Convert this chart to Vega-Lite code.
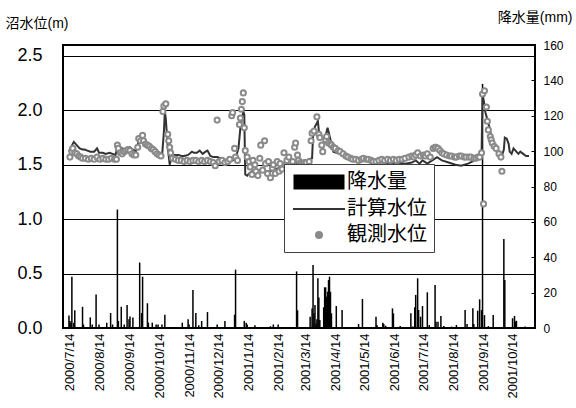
{
  "$schema": "https://vega.github.io/schema/vega-lite/v6.json",
  "width": 472,
  "height": 283,
  "autosize": "none",
  "padding": {"left": 63, "top": 45, "right": 41, "bottom": 80},
  "background": "white",
  "config": {
    "view": {"stroke": "black", "strokeWidth": 2},
    "font": "Liberation Sans, Noto Sans CJK JP, sans-serif",
    "axis": {"domain": false, "ticks": false, "labelColor": "black", "titleColor": "black", "titleFontWeight": "normal"}
  },
  "datasets": {
    "rain": [
      {"d": "2000/7/13", "mm": 7}, {"d": "2000/7/14", "mm": 4}, {"d": "2000/7/15", "mm": 3}, {"d": "2000/7/16", "mm": 29},
      {"d": "2000/7/18", "mm": 3}, {"d": "2000/7/19", "mm": 10}, {"d": "2000/7/27", "mm": 12}, {"d": "2000/7/28", "mm": 2},
      {"d": "2000/8/4", "mm": 6}, {"d": "2000/8/6", "mm": 2}, {"d": "2000/8/10", "mm": 19}, {"d": "2000/8/13", "mm": 2},
      {"d": "2000/8/21", "mm": 3}, {"d": "2000/8/25", "mm": 8.5}, {"d": "2000/8/27", "mm": 2}, {"d": "2000/9/1", "mm": 67},
      {"d": "2000/9/2", "mm": 4}, {"d": "2000/9/5", "mm": 12}, {"d": "2000/9/8", "mm": 2}, {"d": "2000/9/11", "mm": 13},
      {"d": "2000/9/13", "mm": 5}, {"d": "2000/9/14", "mm": 6.5}, {"d": "2000/9/17", "mm": 6}, {"d": "2000/9/24", "mm": 37},
      {"d": "2000/9/26", "mm": 8.5}, {"d": "2000/9/27", "mm": 29}, {"d": "2000/10/2", "mm": 14}, {"d": "2000/10/3", "mm": 3},
      {"d": "2000/10/7", "mm": 3}, {"d": "2000/10/11", "mm": 2}, {"d": "2000/10/13", "mm": 2}, {"d": "2000/10/17", "mm": 2},
      {"d": "2000/10/20", "mm": 7.5}, {"d": "2000/11/7", "mm": 3}, {"d": "2000/11/13", "mm": 5}, {"d": "2000/11/14", "mm": 2},
      {"d": "2000/11/18", "mm": 21.5}, {"d": "2000/11/21", "mm": 8.5}, {"d": "2000/11/24", "mm": 1.5}, {"d": "2000/11/27", "mm": 4},
      {"d": "2000/12/3", "mm": 9}, {"d": "2000/12/13", "mm": 2}, {"d": "2000/12/21", "mm": 4}, {"d": "2000/12/31", "mm": 7.5},
      {"d": "2001/1/1", "mm": 33}, {"d": "2001/1/10", "mm": 4}, {"d": "2001/1/12", "mm": 3}, {"d": "2001/1/13", "mm": 2},
      {"d": "2001/1/21", "mm": 1.5}, {"d": "2001/2/6", "mm": 1}, {"d": "2001/2/9", "mm": 2}, {"d": "2001/2/14", "mm": 2},
      {"d": "2001/3/5", "mm": 32}, {"d": "2001/3/6", "mm": 10}, {"d": "2001/3/19", "mm": 6.4}, {"d": "2001/3/21", "mm": 11},
      {"d": "2001/3/22", "mm": 35.6}, {"d": "2001/3/23", "mm": 8.3}, {"d": "2001/3/24", "mm": 13}, {"d": "2001/3/25", "mm": 2.6},
      {"d": "2001/3/26", "mm": 4.9}, {"d": "2001/3/27", "mm": 28.1}, {"d": "2001/3/28", "mm": 17.3}, {"d": "2001/3/29", "mm": 4.5},
      {"d": "2001/4/2", "mm": 11.7}, {"d": "2001/4/3", "mm": 23}, {"d": "2001/4/4", "mm": 23}, {"d": "2001/4/5", "mm": 17.7},
      {"d": "2001/4/6", "mm": 20.5}, {"d": "2001/4/7", "mm": 27.1}, {"d": "2001/4/8", "mm": 29}, {"d": "2001/4/9", "mm": 20.5},
      {"d": "2001/4/10", "mm": 8.3}, {"d": "2001/4/15", "mm": 12.4}, {"d": "2001/4/21", "mm": 10.2}, {"d": "2001/4/24", "mm": 0.5},
      {"d": "2001/4/26", "mm": 0.5}, {"d": "2001/5/8", "mm": 2.3}, {"d": "2001/5/12", "mm": 16.4}, {"d": "2001/5/18", "mm": 0.5},
      {"d": "2001/5/26", "mm": 6.4}, {"d": "2001/5/27", "mm": 1.7}, {"d": "2001/6/2", "mm": 3}, {"d": "2001/6/3", "mm": 2.3},
      {"d": "2001/6/5", "mm": 1.3}, {"d": "2001/6/12", "mm": 11.1}, {"d": "2001/6/13", "mm": 8.3}, {"d": "2001/6/20", "mm": 1.1},
      {"d": "2001/7/1", "mm": 8.3}, {"d": "2001/7/3", "mm": 0.8}, {"d": "2001/7/5", "mm": 11.7}, {"d": "2001/7/6", "mm": 18.7},
      {"d": "2001/7/8", "mm": 28.1}, {"d": "2001/7/9", "mm": 10.2}, {"d": "2001/7/11", "mm": 6.4}, {"d": "2001/7/13", "mm": 12.4},
      {"d": "2001/7/15", "mm": 0.5}, {"d": "2001/7/18", "mm": 20.2}, {"d": "2001/7/20", "mm": 1.7}, {"d": "2001/7/26", "mm": 24.3},
      {"d": "2001/7/27", "mm": 3.6}, {"d": "2001/7/29", "mm": 3.6}, {"d": "2001/8/1", "mm": 6.8}, {"d": "2001/8/4", "mm": 1.1},
      {"d": "2001/8/12", "mm": 0.8}, {"d": "2001/8/17", "mm": 1.7}, {"d": "2001/8/26", "mm": 10.2}, {"d": "2001/8/28", "mm": 2.3},
      {"d": "2001/9/3", "mm": 11.1}, {"d": "2001/9/4", "mm": 2.3}, {"d": "2001/9/8", "mm": 9.8}, {"d": "2001/9/10", "mm": 16.2},
      {"d": "2001/9/12", "mm": 10.2}, {"d": "2001/9/13", "mm": 138}, {"d": "2001/9/15", "mm": 7.3}, {"d": "2001/9/19", "mm": 1.1},
      {"d": "2001/9/24", "mm": 7.3}, {"d": "2001/10/5", "mm": 50.3}, {"d": "2001/10/6", "mm": 27.1}, {"d": "2001/10/14", "mm": 5.5},
      {"d": "2001/10/16", "mm": 6.8}, {"d": "2001/10/17", "mm": 3.6}, {"d": "2001/10/18", "mm": 4.1}, {"d": "2001/10/27", "mm": 0.8}
    ],
    "calc": [
      {"d": "2000/7/13", "v": 1.62}, {"d": "2000/7/15", "v": 1.66}, {"d": "2000/7/18", "v": 1.71}, {"d": "2000/7/21", "v": 1.68},
      {"d": "2000/7/24", "v": 1.65}, {"d": "2000/7/27", "v": 1.64}, {"d": "2000/7/29", "v": 1.64}, {"d": "2000/8/1", "v": 1.63},
      {"d": "2000/8/4", "v": 1.62}, {"d": "2000/8/8", "v": 1.62}, {"d": "2000/8/11", "v": 1.65}, {"d": "2000/8/13", "v": 1.61},
      {"d": "2000/8/17", "v": 1.61}, {"d": "2000/8/20", "v": 1.60}, {"d": "2000/8/24", "v": 1.61}, {"d": "2000/8/27", "v": 1.60},
      {"d": "2000/8/30", "v": 1.59}, {"d": "2000/9/1", "v": 1.66}, {"d": "2000/9/4", "v": 1.66}, {"d": "2000/9/6", "v": 1.65},
      {"d": "2000/9/10", "v": 1.64}, {"d": "2000/9/14", "v": 1.66}, {"d": "2000/9/17", "v": 1.64}, {"d": "2000/9/20", "v": 1.62},
      {"d": "2000/9/23", "v": 1.72}, {"d": "2000/9/26", "v": 1.75}, {"d": "2000/9/28", "v": 1.73}, {"d": "2000/10/1", "v": 1.70},
      {"d": "2000/10/4", "v": 1.68}, {"d": "2000/10/8", "v": 1.65}, {"d": "2000/10/11", "v": 1.62}, {"d": "2000/10/15", "v": 1.58},
      {"d": "2000/10/17", "v": 1.57}, {"d": "2000/10/19", "v": 1.80}, {"d": "2000/10/20", "v": 1.99}, {"d": "2000/10/21", "v": 1.92},
      {"d": "2000/10/23", "v": 1.66}, {"d": "2000/10/25", "v": 1.50}, {"d": "2000/10/27", "v": 1.57}, {"d": "2000/10/30", "v": 1.59},
      {"d": "2000/11/3", "v": 1.59}, {"d": "2000/11/6", "v": 1.58}, {"d": "2000/11/9", "v": 1.58}, {"d": "2000/11/13", "v": 1.59},
      {"d": "2000/11/17", "v": 1.62}, {"d": "2000/11/19", "v": 1.61}, {"d": "2000/11/22", "v": 1.61}, {"d": "2000/11/25", "v": 1.63},
      {"d": "2000/11/28", "v": 1.60}, {"d": "2000/12/1", "v": 1.62}, {"d": "2000/12/3", "v": 1.63}, {"d": "2000/12/6", "v": 1.58},
      {"d": "2000/12/9", "v": 1.57}, {"d": "2000/12/13", "v": 1.57}, {"d": "2000/12/16", "v": 1.56}, {"d": "2000/12/19", "v": 1.56},
      {"d": "2000/12/22", "v": 1.54}, {"d": "2000/12/26", "v": 1.53}, {"d": "2000/12/29", "v": 1.54}, {"d": "2001/1/1", "v": 1.56},
      {"d": "2001/1/4", "v": 1.65}, {"d": "2001/1/6", "v": 1.84}, {"d": "2001/1/9", "v": 1.99}, {"d": "2001/1/10", "v": 1.96},
      {"d": "2001/1/11", "v": 1.41}, {"d": "2001/1/13", "v": 1.40}, {"d": "2001/1/15", "v": 1.42}, {"d": "2001/1/18", "v": 1.44},
      {"d": "2001/1/22", "v": 1.44}, {"d": "2001/1/25", "v": 1.45}, {"d": "2001/1/28", "v": 1.45}, {"d": "2001/2/1", "v": 1.44},
      {"d": "2001/2/6", "v": 1.44}, {"d": "2001/2/10", "v": 1.46}, {"d": "2001/2/16", "v": 1.47}, {"d": "2001/2/21", "v": 1.48},
      {"d": "2001/2/26", "v": 1.49}, {"d": "2001/3/2", "v": 1.50}, {"d": "2001/3/6", "v": 1.51}, {"d": "2001/3/10", "v": 1.52},
      {"d": "2001/3/15", "v": 1.54}, {"d": "2001/3/21", "v": 1.56}, {"d": "2001/3/22", "v": 1.76}, {"d": "2001/3/24", "v": 1.85},
      {"d": "2001/3/27", "v": 1.90}, {"d": "2001/3/28", "v": 1.81}, {"d": "2001/3/31", "v": 1.76}, {"d": "2001/4/3", "v": 1.73},
      {"d": "2001/4/6", "v": 1.84}, {"d": "2001/4/9", "v": 1.73}, {"d": "2001/4/12", "v": 1.62}, {"d": "2001/4/15", "v": 1.61},
      {"d": "2001/4/19", "v": 1.60}, {"d": "2001/4/24", "v": 1.58}, {"d": "2001/4/29", "v": 1.56}, {"d": "2001/5/5", "v": 1.55},
      {"d": "2001/5/13", "v": 1.54}, {"d": "2001/5/19", "v": 1.53}, {"d": "2001/5/26", "v": 1.52}, {"d": "2001/6/2", "v": 1.52},
      {"d": "2001/6/10", "v": 1.51}, {"d": "2001/6/18", "v": 1.52}, {"d": "2001/6/25", "v": 1.51}, {"d": "2001/7/2", "v": 1.52},
      {"d": "2001/7/6", "v": 1.54}, {"d": "2001/7/10", "v": 1.51}, {"d": "2001/7/13", "v": 1.54}, {"d": "2001/7/18", "v": 1.51},
      {"d": "2001/7/23", "v": 1.54}, {"d": "2001/7/28", "v": 1.57}, {"d": "2001/8/2", "v": 1.54}, {"d": "2001/8/9", "v": 1.52},
      {"d": "2001/8/16", "v": 1.50}, {"d": "2001/8/22", "v": 1.49}, {"d": "2001/8/29", "v": 1.51}, {"d": "2001/9/5", "v": 1.54},
      {"d": "2001/9/11", "v": 1.57}, {"d": "2001/9/12", "v": 1.60}, {"d": "2001/9/13", "v": 2.15}, {"d": "2001/9/15", "v": 2.05},
      {"d": "2001/9/16", "v": 1.98}, {"d": "2001/9/20", "v": 1.85}, {"d": "2001/9/23", "v": 1.72}, {"d": "2001/9/30", "v": 1.62},
      {"d": "2001/10/3", "v": 1.58}, {"d": "2001/10/5", "v": 1.64}, {"d": "2001/10/6", "v": 1.75}, {"d": "2001/10/8", "v": 1.74},
      {"d": "2001/10/10", "v": 1.69}, {"d": "2001/10/11", "v": 1.62}, {"d": "2001/10/13", "v": 1.60}, {"d": "2001/10/15", "v": 1.65},
      {"d": "2001/10/17", "v": 1.63}, {"d": "2001/10/20", "v": 1.60}, {"d": "2001/10/22", "v": 1.62}, {"d": "2001/10/25", "v": 1.60},
      {"d": "2001/10/28", "v": 1.58}, {"d": "2001/10/31", "v": 1.58}
    ],
    "obs": [
      {"d": "2000/7/14", "v": 1.57}, {"d": "2000/7/16", "v": 1.62}, {"d": "2000/7/17", "v": 1.65}, {"d": "2000/7/19", "v": 1.61},
      {"d": "2000/7/21", "v": 1.60}, {"d": "2000/7/23", "v": 1.58}, {"d": "2000/7/25", "v": 1.57}, {"d": "2000/7/27", "v": 1.56},
      {"d": "2000/7/30", "v": 1.56}, {"d": "2000/8/2", "v": 1.55}, {"d": "2000/8/5", "v": 1.56}, {"d": "2000/8/8", "v": 1.55},
      {"d": "2000/8/11", "v": 1.57}, {"d": "2000/8/14", "v": 1.55}, {"d": "2000/8/17", "v": 1.56}, {"d": "2000/8/20", "v": 1.55},
      {"d": "2000/8/23", "v": 1.55}, {"d": "2000/8/26", "v": 1.56}, {"d": "2000/8/29", "v": 1.55}, {"d": "2000/8/31", "v": 1.55},
      {"d": "2000/9/1", "v": 1.68}, {"d": "2000/9/2", "v": 1.65}, {"d": "2000/9/4", "v": 1.61}, {"d": "2000/9/6", "v": 1.60},
      {"d": "2000/9/8", "v": 1.62}, {"d": "2000/9/10", "v": 1.63}, {"d": "2000/9/12", "v": 1.64}, {"d": "2000/9/14", "v": 1.63},
      {"d": "2000/9/16", "v": 1.60}, {"d": "2000/9/18", "v": 1.59}, {"d": "2000/9/20", "v": 1.59}, {"d": "2000/9/22", "v": 1.66},
      {"d": "2000/9/23", "v": 1.74}, {"d": "2000/9/25", "v": 1.72}, {"d": "2000/9/27", "v": 1.77}, {"d": "2000/9/28", "v": 1.72},
      {"d": "2000/9/30", "v": 1.69}, {"d": "2000/10/2", "v": 1.68}, {"d": "2000/10/4", "v": 1.67}, {"d": "2000/10/6", "v": 1.65},
      {"d": "2000/10/8", "v": 1.64}, {"d": "2000/10/10", "v": 1.62}, {"d": "2000/10/12", "v": 1.60}, {"d": "2000/10/14", "v": 1.59},
      {"d": "2000/10/16", "v": 1.58}, {"d": "2000/10/18", "v": 1.99}, {"d": "2000/10/19", "v": 2.04}, {"d": "2000/10/21", "v": 2.06},
      {"d": "2000/10/23", "v": 1.78}, {"d": "2000/10/24", "v": 1.72}, {"d": "2000/10/25", "v": 1.66}, {"d": "2000/10/26", "v": 1.61},
      {"d": "2000/10/28", "v": 1.56}, {"d": "2000/10/31", "v": 1.55}, {"d": "2000/11/3", "v": 1.54}, {"d": "2000/11/6", "v": 1.54},
      {"d": "2000/11/9", "v": 1.53}, {"d": "2000/11/12", "v": 1.54}, {"d": "2000/11/15", "v": 1.53}, {"d": "2000/11/18", "v": 1.54},
      {"d": "2000/11/21", "v": 1.54}, {"d": "2000/11/24", "v": 1.53}, {"d": "2000/11/27", "v": 1.54}, {"d": "2000/11/30", "v": 1.53},
      {"d": "2000/12/3", "v": 1.54}, {"d": "2000/12/6", "v": 1.53}, {"d": "2000/12/9", "v": 1.52}, {"d": "2000/12/11", "v": 1.49},
      {"d": "2000/12/13", "v": 1.91}, {"d": "2000/12/15", "v": 1.53}, {"d": "2000/12/18", "v": 1.54}, {"d": "2000/12/21", "v": 1.52},
      {"d": "2000/12/24", "v": 1.53}, {"d": "2000/12/26", "v": 1.55}, {"d": "2000/12/28", "v": 1.95}, {"d": "2000/12/29", "v": 1.98},
      {"d": "2000/12/31", "v": 1.65}, {"d": "2001/1/1", "v": 1.57}, {"d": "2001/1/3", "v": 1.54}, {"d": "2001/1/5", "v": 1.87},
      {"d": "2001/1/6", "v": 1.93}, {"d": "2001/1/7", "v": 2.01}, {"d": "2001/1/8", "v": 2.08}, {"d": "2001/1/9", "v": 2.16},
      {"d": "2001/1/10", "v": 1.84}, {"d": "2001/1/11", "v": 1.63}, {"d": "2001/1/13", "v": 1.57}, {"d": "2001/1/15", "v": 1.53},
      {"d": "2001/1/16", "v": 1.48}, {"d": "2001/1/18", "v": 1.41}, {"d": "2001/1/19", "v": 1.54}, {"d": "2001/1/21", "v": 1.50},
      {"d": "2001/1/22", "v": 1.44}, {"d": "2001/1/24", "v": 1.40}, {"d": "2001/1/26", "v": 1.56}, {"d": "2001/1/27", "v": 1.68},
      {"d": "2001/1/29", "v": 1.45}, {"d": "2001/1/31", "v": 1.72}, {"d": "2001/2/1", "v": 1.51}, {"d": "2001/2/3", "v": 1.42},
      {"d": "2001/2/4", "v": 1.53}, {"d": "2001/2/6", "v": 1.38}, {"d": "2001/2/8", "v": 1.47}, {"d": "2001/2/9", "v": 1.50},
      {"d": "2001/2/11", "v": 1.42}, {"d": "2001/2/13", "v": 1.53}, {"d": "2001/2/15", "v": 1.44}, {"d": "2001/2/16", "v": 1.51},
      {"d": "2001/2/18", "v": 1.46}, {"d": "2001/2/20", "v": 1.61}, {"d": "2001/2/22", "v": 1.50}, {"d": "2001/2/23", "v": 1.54},
      {"d": "2001/2/25", "v": 1.57}, {"d": "2001/2/27", "v": 1.48}, {"d": "2001/3/1", "v": 1.53}, {"d": "2001/3/3", "v": 1.66},
      {"d": "2001/3/4", "v": 1.70}, {"d": "2001/3/6", "v": 1.59}, {"d": "2001/3/7", "v": 1.54}, {"d": "2001/3/9", "v": 1.52},
      {"d": "2001/3/11", "v": 1.51}, {"d": "2001/3/13", "v": 1.52}, {"d": "2001/3/15", "v": 1.52}, {"d": "2001/3/18", "v": 1.53},
      {"d": "2001/3/20", "v": 1.72}, {"d": "2001/3/21", "v": 1.79}, {"d": "2001/3/23", "v": 1.81}, {"d": "2001/3/26", "v": 1.94},
      {"d": "2001/3/28", "v": 1.78}, {"d": "2001/3/29", "v": 1.75}, {"d": "2001/3/31", "v": 1.68}, {"d": "2001/4/1", "v": 1.62},
      {"d": "2001/4/4", "v": 1.73}, {"d": "2001/4/5", "v": 1.76}, {"d": "2001/4/7", "v": 1.70}, {"d": "2001/4/9", "v": 1.69},
      {"d": "2001/4/10", "v": 1.68}, {"d": "2001/4/12", "v": 1.66}, {"d": "2001/4/14", "v": 1.65}, {"d": "2001/4/17", "v": 1.63},
      {"d": "2001/4/19", "v": 1.62}, {"d": "2001/4/22", "v": 1.60}, {"d": "2001/4/25", "v": 1.58}, {"d": "2001/4/27", "v": 1.57},
      {"d": "2001/4/30", "v": 1.56}, {"d": "2001/5/2", "v": 1.55}, {"d": "2001/5/5", "v": 1.55}, {"d": "2001/5/8", "v": 1.54},
      {"d": "2001/5/11", "v": 1.55}, {"d": "2001/5/13", "v": 1.56}, {"d": "2001/5/16", "v": 1.55}, {"d": "2001/5/18", "v": 1.55},
      {"d": "2001/5/21", "v": 1.54}, {"d": "2001/5/23", "v": 1.53}, {"d": "2001/5/26", "v": 1.53}, {"d": "2001/5/29", "v": 1.54},
      {"d": "2001/6/1", "v": 1.55}, {"d": "2001/6/4", "v": 1.54}, {"d": "2001/6/7", "v": 1.55}, {"d": "2001/6/10", "v": 1.54},
      {"d": "2001/6/13", "v": 1.55}, {"d": "2001/6/16", "v": 1.54}, {"d": "2001/6/19", "v": 1.55}, {"d": "2001/6/22", "v": 1.55},
      {"d": "2001/6/25", "v": 1.56}, {"d": "2001/6/29", "v": 1.57}, {"d": "2001/7/2", "v": 1.58}, {"d": "2001/7/4", "v": 1.57},
      {"d": "2001/7/6", "v": 1.59}, {"d": "2001/7/8", "v": 1.61}, {"d": "2001/7/11", "v": 1.58}, {"d": "2001/7/14", "v": 1.59},
      {"d": "2001/7/16", "v": 1.58}, {"d": "2001/7/18", "v": 1.60}, {"d": "2001/7/21", "v": 1.57}, {"d": "2001/7/24", "v": 1.65},
      {"d": "2001/7/26", "v": 1.66}, {"d": "2001/7/27", "v": 1.66}, {"d": "2001/7/29", "v": 1.65}, {"d": "2001/7/31", "v": 1.63},
      {"d": "2001/8/2", "v": 1.61}, {"d": "2001/8/4", "v": 1.60}, {"d": "2001/8/7", "v": 1.59}, {"d": "2001/8/10", "v": 1.58},
      {"d": "2001/8/12", "v": 1.58}, {"d": "2001/8/15", "v": 1.57}, {"d": "2001/8/17", "v": 1.57}, {"d": "2001/8/20", "v": 1.58},
      {"d": "2001/8/22", "v": 1.58}, {"d": "2001/8/25", "v": 1.57}, {"d": "2001/8/27", "v": 1.57}, {"d": "2001/8/30", "v": 1.57},
      {"d": "2001/9/1", "v": 1.57}, {"d": "2001/9/4", "v": 1.56}, {"d": "2001/9/6", "v": 1.56}, {"d": "2001/9/8", "v": 1.57},
      {"d": "2001/9/10", "v": 1.57}, {"d": "2001/9/12", "v": 1.61}, {"d": "2001/9/13", "v": 2.15}, {"d": "2001/9/14", "v": 1.14},
      {"d": "2001/9/15", "v": 2.18}, {"d": "2001/9/17", "v": 2.03}, {"d": "2001/9/18", "v": 1.90}, {"d": "2001/9/19", "v": 1.82},
      {"d": "2001/9/21", "v": 1.76}, {"d": "2001/9/22", "v": 1.73}, {"d": "2001/9/23", "v": 1.70}, {"d": "2001/9/25", "v": 1.67},
      {"d": "2001/9/27", "v": 1.65}, {"d": "2001/9/30", "v": 1.60}, {"d": "2001/10/2", "v": 1.57}, {"d": "2001/10/3", "v": 1.44}
    ]
  },
  "encoding": {
    "x": {
      "field": "d",
      "type": "temporal",
      "title": null,
      "scale": {"domain": [{"year": 2000, "month": 7, "date": 12}, {"year": 2001, "month": 11, "date": 1}]},
      "axis": {
        "values": [
          {"year": 2000, "month": 7, "date": 14}, {"year": 2000, "month": 8, "date": 14}, {"year": 2000, "month": 9, "date": 14},
          {"year": 2000, "month": 10, "date": 14}, {"year": 2000, "month": 11, "date": 14}, {"year": 2000, "month": 12, "date": 14},
          {"year": 2001, "month": 1, "date": 14}, {"year": 2001, "month": 2, "date": 14}, {"year": 2001, "month": 3, "date": 14},
          {"year": 2001, "month": 4, "date": 14}, {"year": 2001, "month": 5, "date": 14}, {"year": 2001, "month": 6, "date": 14},
          {"year": 2001, "month": 7, "date": 14}, {"year": 2001, "month": 8, "date": 14}, {"year": 2001, "month": 9, "date": 14},
          {"year": 2001, "month": 10, "date": 14}
        ],
        "format": "%Y/%-m/%-d",
        "labelAngle": -90,
        "labelFontSize": 13,
        "labelPadding": 5,
        "grid": false,
        "labelOverlap": false
      }
    }
  },
  "layer": [
    {
      "data": {"name": "rain"},
      "mark": {"type": "bar", "width": 1.5},
      "encoding": {
        "y": {
          "field": "mm",
          "type": "quantitative",
          "scale": {"domain": [0, 160]},
          "axis": {
            "orient": "right",
            "values": [0, 20, 40, 60, 80, 100, 120, 140, 160],
            "grid": false,
            "ticks": true,
            "tickSize": -4,
            "tickColor": "black",
            "labelFontSize": 12,
            "labelPadding": 12,
            "title": "降水量(mm)",
            "titleAngle": 0,
            "titleFontSize": 14,
            "titleAlign": "right",
            "titleBaseline": "middle",
            "titleX": 37,
            "titleY": -28
          }
        },
        "color": {
          "datum": "降水量",
          "type": "nominal",
          "scale": {"domain": ["降水量", "計算水位", "観測水位"], "range": ["#000000", "#333333", "#8a8a8a"]},
          "legend": {
            "title": null,
            "orient": "none",
            "legendX": 221,
            "legendY": 119,
            "fillColor": "white",
            "strokeColor": "#404040",
            "padding": 7,
            "rowPadding": 5,
            "symbolSize": 400,
            "symbolOffset": 17,
            "labelOffset": 17,
            "labelFontSize": 20,
            "labelFont": "Noto Sans CJK JP",
            "labelColor": "black",
            "symbolStrokeWidth": 2,
            "encode": {
              "symbols": {
                "update": {
                  "shape": {"signal": "datum.value === '降水量' ? 'M-2.45,-0.65H2.45V0.65H-2.45Z' : (datum.value === '計算水位' ? 'M-2.6,0H2.6' : 'M0.3,0A0.3,0.3,0,1,1,-0.3,0A0.3,0.3,0,1,1,0.3,0Z')"},
                  "fill": {"signal": "datum.value === '降水量' ? '#000000' : (datum.value === '観測水位' ? '#ffffff' : 'transparent')"},
                  "stroke": {"signal": "datum.value === '降水量' ? 'transparent' : (datum.value === '計算水位' ? '#333333' : '#8a8a8a')"},
                  "strokeWidth": {"value": 2},
                  "opacity": {"value": 1}
                }
              }
            }
          }
        }
      }
    },
    {
      "layer": [
        {
          "data": {"name": "calc"},
          "mark": {"type": "line", "strokeWidth": 2},
          "encoding": {
            "y": {
              "field": "v",
              "type": "quantitative",
              "scale": {"domain": [0, 2.5]},
              "axis": {
                "values": [0, 0.5, 1, 1.5, 2, 2.5],
                "format": ".1f",
                "grid": true,
                "gridColor": "black",
                "gridOpacity": 1,
                "gridWidth": 1,
                "labelFontSize": 18,
                "labelPadding": 21,
                "title": "沼水位(m)",
                "titleAngle": 0,
                "titleFontSize": 14,
                "titleAlign": "left",
                "titleBaseline": "middle",
                "titleX": -58,
                "titleY": -22
              }
            },
            "color": {"datum": "計算水位", "type": "nominal"}
          }
        },
        {
          "data": {"name": "obs"},
          "mark": {"type": "point", "filled": false, "fill": "white", "size": 26, "strokeWidth": 2, "opacity": 1},
          "encoding": {
            "y": {"field": "v", "type": "quantitative"},
            "color": {"datum": "観測水位", "type": "nominal"}
          }
        }
      ]
    }
  ],
  "resolve": {"scale": {"y": "independent"}}
}
